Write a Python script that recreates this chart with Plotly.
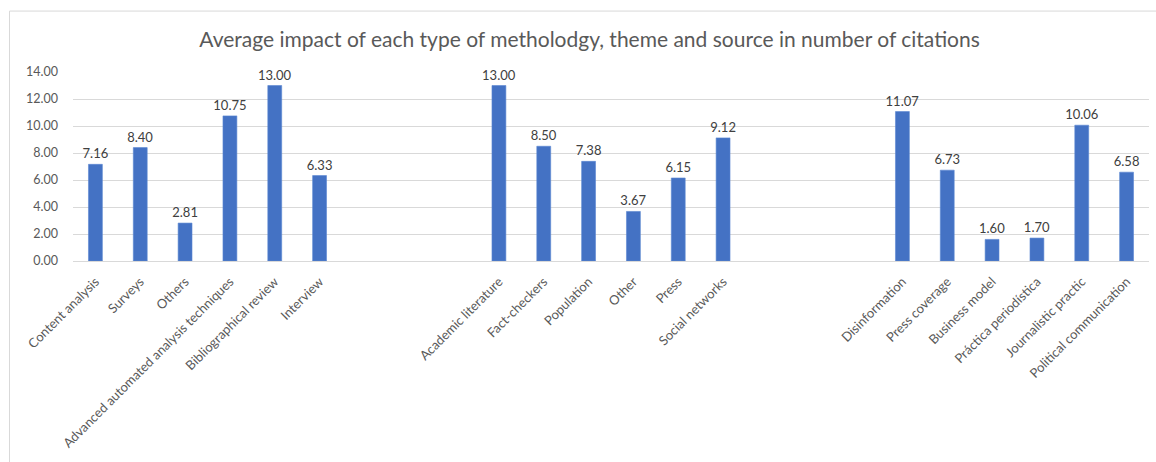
import plotly.graph_objects as go

# Average citations per methodology, theme and source
methodology = ["Content analysis", "Surveys", "Others",
               "Advanced automated analysis techniques",
               "Bibliographical review", "Interview"]
methodology_vals = [7.16, 8.40, 2.81, 10.75, 13.00, 6.33]

theme = ["Academic literature", "Fact-checkers", "Population", "Other",
         "Press", "Social networks"]
theme_vals = [13.00, 8.50, 7.38, 3.67, 6.15, 9.12]

source = ["Disinformation", "Press coverage", "Business model",
          "Práctica periodística", "Journalistic practic",
          "Political communication"]
source_vals = [11.07, 6.73, 1.60, 1.70, 10.06, 6.58]

y_ticks = [0, 2, 4, 6, 8, 10, 12, 14]

# blank category slots separating the three groups
gap_a = ["\u200b", "\u200b\u200b", "\u200b\u200b\u200b"]
gap_b = ["\u2060", "\u2060\u2060", "\u2060\u2060\u2060"]

category_order = methodology + gap_a + theme + gap_b + source
cats = methodology + theme + source
vals = methodology_vals + theme_vals + source_vals

fig = go.Figure(go.Bar(
    x=cats, y=vals,
    marker=dict(color="#4472C4", line=dict(color="#5B86D1", width=0.6)),
    text=[f"{v:.2f}" for v in vals],
    textposition="outside",
    constraintext="none",
    textfont=dict(family="Lato", size=13, color="#404040"),
    cliponaxis=False,
))

fig.update_layout(
    width=1156, height=462,
    margin=dict(l=73, r=7, t=71.5, b=201.3),
    paper_bgcolor="white", plot_bgcolor="white",
    showlegend=False,
    bargap=0.69,
    font=dict(family="Lato", color="#595959", size=12),
    title=dict(
        text="Average impact of each type of metholodgy, theme and source in number of citations",
        x=0.51, xref="container", xanchor="center",
        y=1 - 40 / 462, yref="container", yanchor="middle",
        font=dict(family="Lato", size=21, color="#595959"),
    ),
    xaxis=dict(
        type="category",
        categoryorder="array", categoryarray=category_order,
        range=[-0.5, len(category_order) - 0.5],
        tickangle=-45,
        tickfont=dict(family="Lato", size=13, color="#595959"),
        showgrid=False,
        showline=True, linecolor="#d9d9d9", linewidth=1,
        ticks="", ticklabelstandoff=7,
    ),
    yaxis=dict(
        range=[0, 14],
        tickvals=y_ticks,
        tickformat=".2f",
        tickfont=dict(family="Lato", size=12.5, color="#595959"),
        showgrid=True, gridcolor="#d9d9d9", gridwidth=1,
        zeroline=False, showline=False,
        ticks="", ticklabelstandoff=14,
    ),
    shapes=[dict(
        type="rect", xref="paper", yref="paper",
        x0=(9.5 - 73) / 1076, x1=1.2,
        y0=-2.0, y1=1 + (71.5 - 10.5) / 189.2,
        line=dict(color="#d9d9d9", width=1),
        fillcolor="rgba(0,0,0,0)", layer="below",
    )],
)

fig.write_html("out.html")
